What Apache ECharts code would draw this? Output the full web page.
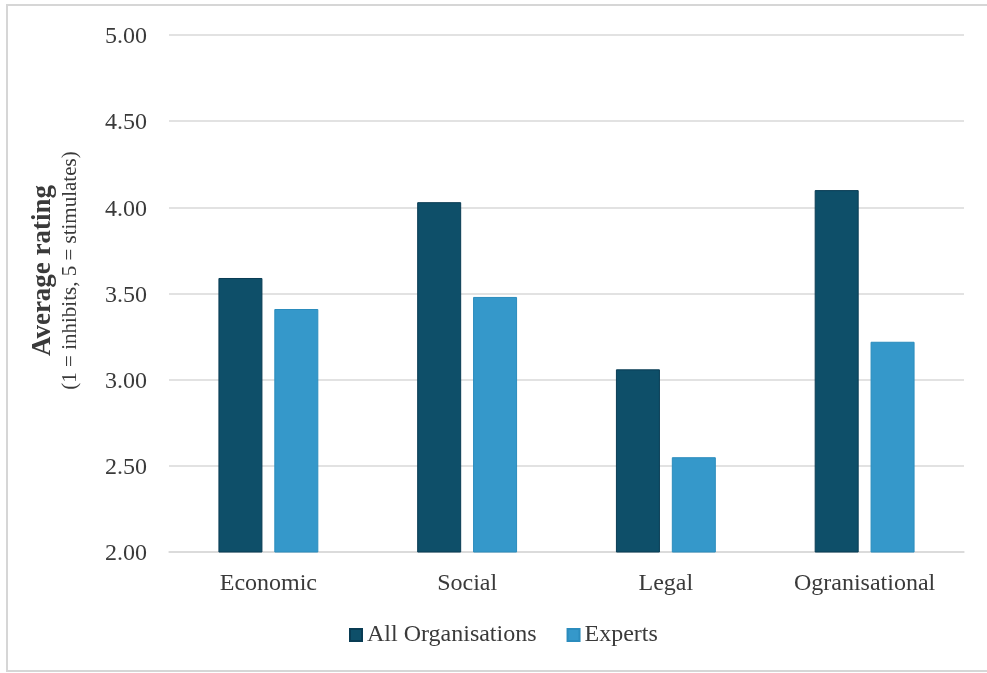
<!DOCTYPE html>
<html>
<head>
<meta charset="utf-8">
<title>Average rating by factor</title>
<script src="https://cdn.jsdelivr.net/npm/echarts@6/dist/echarts.min.js"></script>
<style>
  html, body { margin: 0; padding: 0; background: #ffffff; overflow: hidden; }
  #chart { width: 987px; height: 673px; }
</style>
</head>
<body>
<div id="chart"></div>
<script>
// Factor categories along the x axis
const categories = ['Economic', 'Social', 'Legal', 'Ogranisational'];

// Average ratings per group
const allOrganisations = [3.59, 4.03, 3.06, 4.10];
const experts = [3.41, 3.48, 2.55, 3.22];

// Series names shown in the legend
const seriesNames = ['All Organisations', 'Experts'];

// Value axis range and step
const yMin = 2.0;
const yMax = 5.0;
const yStep = 0.5;

const serif = "'Liberation Serif', 'DejaVu Serif', serif";
const textColor = '#3a3a3a';
const gridColor = '#d9d9d9';
const darkBlue = '#0e4f69';
const lightBlue = '#3598ca';

const chart = echarts.init(document.getElementById('chart'), null, { renderer: 'canvas' });

chart.setOption({
  animation: false,
  backgroundColor: '#ffffff',
  textStyle: { fontFamily: serif },
  graphic: [
    {
      type: 'rect',
      shape: { x: 7, y: 5, width: 1010, height: 666 },
      style: { fill: 'none', stroke: '#d6d6d6', lineWidth: 2 },
      silent: true
    }
  ],
  grid: {
    left: 169,
    right: 23,
    top: 35,
    bottom: 121,
    containLabel: false
  },
  legend: {
    bottom: 21,
    left: 344,
    itemWidth: 12,
    itemHeight: 12,
    itemGap: 30,
    icon: 'rect',
    textStyle: { fontFamily: serif, fontSize: 24, color: textColor },
    data: seriesNames
  },
  xAxis: {
    type: 'category',
    data: categories,
    axisLine: { show: true, lineStyle: { color: gridColor, width: 1.5 } },
    axisTick: { show: false },
    axisLabel: { fontFamily: serif, fontSize: 24, color: textColor, margin: 20 }
  },
  yAxis: {
    type: 'value',
    min: yMin,
    max: yMax,
    interval: yStep,
    axisLine: { show: false },
    axisTick: { show: false },
    axisLabel: {
      color: textColor,
      margin: 22,
      formatter: (v) => '{v|' + v.toFixed(2) + '}',
      rich: {
        v: { fontFamily: serif, fontSize: 24, color: textColor, padding: [4, 0, 0, 0] }
      }
    },
    splitLine: { lineStyle: { color: gridColor, width: 1.5 } },
    name: '{t|Average rating}\n{s|(1 = inhibits, 5 = stimulates)}',
    nameLocation: 'middle',
    nameRotate: 90,
    nameGap: 86,
    nameTextStyle: {
      padding: [0, 0, 0, 46],
      rich: {
        t: { fontFamily: serif, fontSize: 27, fontWeight: 'bold', color: textColor, lineHeight: 27, align: 'center' },
        s: { fontFamily: serif, fontSize: 21, color: textColor, lineHeight: 26, align: 'center' }
      }
    }
  },
  series: [
    {
      name: seriesNames[0],
      type: 'bar',
      data: allOrganisations,
      barWidth: 44,
      barGap: '27%',
      itemStyle: { color: darkBlue, borderColor: '#093c54', borderWidth: 1 }
    },
    {
      name: seriesNames[1],
      type: 'bar',
      data: experts,
      barWidth: 44,
      itemStyle: { color: lightBlue, borderColor: '#2b8cbd', borderWidth: 1 }
    }
  ]
});
</script>
</body>
</html>
